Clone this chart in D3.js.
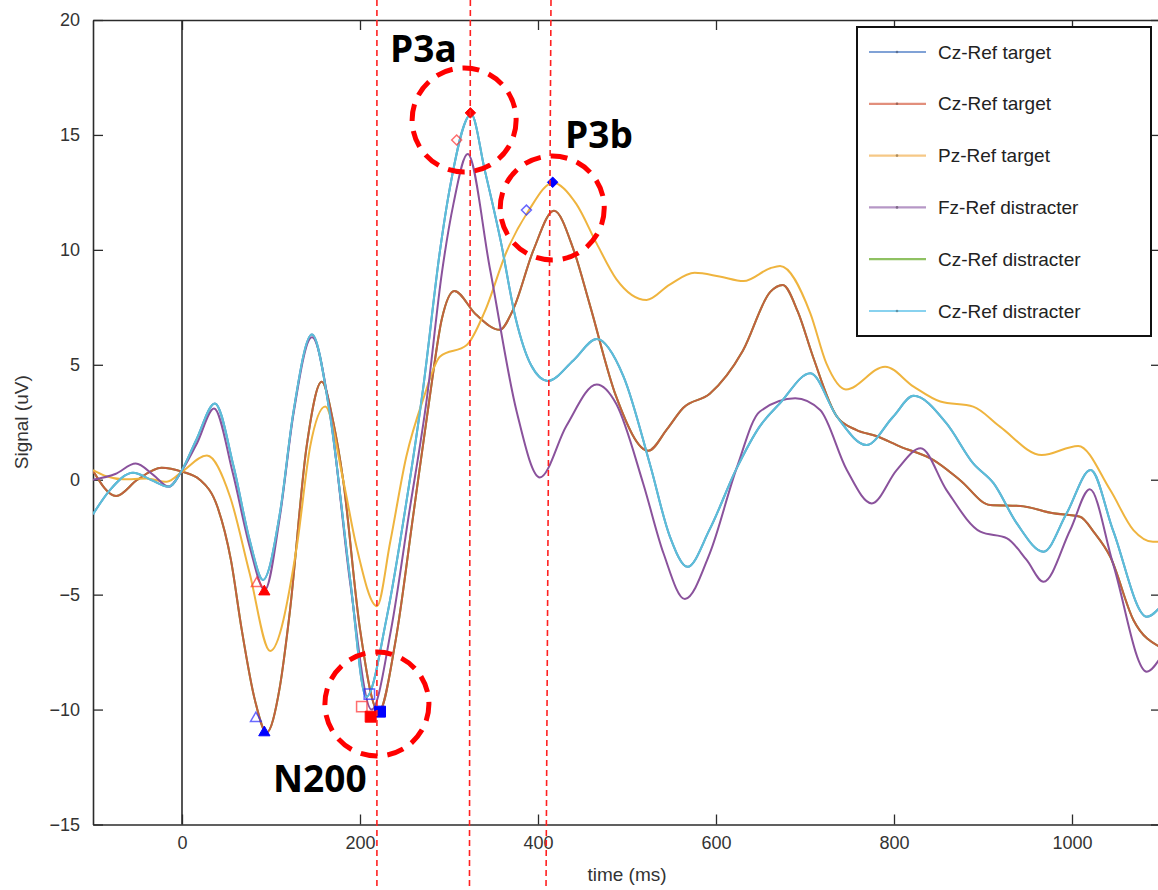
<!DOCTYPE html>
<html>
<head>
<meta charset="utf-8">
<script src="https://cdn.jsdelivr.net/npm/d3@7"></script>
<style>
  body { margin: 0; background: #ffffff; }
  svg { display: block; }
</style>
</head>
<body>
<div id="grafica"></div>
<script>
// ---- datos (tiempo en ms, senal en uV) ----
tiempoCyan = [-100, -81, -55, -35, -15, 0, 16, 37, 58, 76, 91, 110, 125, 146, 166, 189, 207, 230, 252, 271, 290, 301, 325, 340, 358, 375, 392, 411, 440, 466, 496, 526, 548, 568, 593, 623, 649, 672, 706, 736, 769, 799, 822, 859, 889, 912, 938, 968, 994, 1021, 1046, 1084, 1100]
senalCyan  = [-1.5, -0.45, 0.3, 0.0, -0.3, 0.42, 1.73, 3.32, 0.57, -2.62, -4.36, -1.46, 2.9, 6.32, 2.9, -4.36, -9.45, -6.0, -1.0, 4.0, 10.0, 12.7, 15.9, 13.5, 10.4, 7.0, 5.0, 4.3, 5.2, 6.12, 4.5, 0.64, -2.45, -3.79, -2.15, 0.48, 2.31, 3.33, 4.63, 2.74, 1.51, 2.74, 3.65, 2.45, 0.71, -0.16, -1.9, -3.13, -1.46, 0.42, -2.19, -5.96, -5.5]

tiempoPurpura = [-100, -75, -52, -32, -15, 0, 17, 36, 57, 76, 93, 110, 125, 146, 166, 189, 213, 235, 255, 275, 292, 305, 321, 346, 376, 402, 432, 466, 488, 518, 541, 565, 593, 623, 649, 689, 717, 747, 775, 803, 830, 859, 897, 927, 949, 968, 998, 1020, 1046, 1084, 1100]
senalPurpura  = [0.0, 0.25, 0.7, 0.2, -0.3, 0.4, 1.6, 3.1, 0.3, -2.9, -4.8, -1.6, 2.8, 6.2, 3.0, -4.5, -10.0, -6.5, -1.5, 3.5, 9.0, 12.0, 14.17, 9.18, 2.97, 0.1, 2.35, 4.14, 3.29, -0.14, -3.2, -5.19, -3.2, 0.48, 2.96, 3.54, 3.03, 0.42, -1.03, 0.42, 1.37, -0.45, -2.26, -2.55, -3.49, -4.44, -2.19, -0.42, -3.64, -8.35, -7.7]

tiempoNaranja = [-100, -85, -66, -40, -17, 0, 28, 54, 76, 99, 129, 144, 161, 181, 196, 219, 234, 252, 271, 290, 320, 340, 365, 389, 417, 443, 466, 488, 522, 548, 576, 604, 631, 661, 672, 706, 724, 746, 790, 822, 852, 889, 919, 966, 1007, 1043, 1069, 1091, 1100]
senalNaranja  = [0.42, 0.15, 0.02, 0.05, -0.09, 0.35, 1.05, -0.74, -4.07, -7.45, -2.9, 1.44, 3.18, 0.0, -2.9, -5.5, -2.7, 1.0, 3.5, 5.36, 5.86, 7.3, 9.95, 11.68, 12.92, 12.0, 10.27, 8.73, 7.82, 8.49, 9.0, 8.84, 8.64, 9.2, 9.3, 7.24, 5.06, 3.93, 4.92, 4.05, 3.4, 3.18, 2.31, 1.07, 1.47, -0.45, -2.19, -2.7, -2.7]

tiempoCafe = [-100, -74, -50, -23, 0, 20, 40, 55, 67, 82, 95, 110, 121, 140, 157, 170, 181, 200, 221, 240, 260, 278, 292, 306, 330, 357, 372, 395, 418, 440, 458, 488, 524, 545, 563, 593, 630, 661, 675, 692, 709, 736, 758, 780, 807, 844, 874, 908, 942, 979, 1009, 1025, 1043, 1069, 1100]
senalCafe  = [0.39, -0.71, 0.0, 0.52, 0.35, 0.0, -1.2, -3.5, -6.5, -9.6, -11.0, -9.0, -5.8, 1.44, 4.26, 2.5, 0.0, -6.5, -10.1, -7.0, -1.5, 3.5, 7.0, 8.21, 7.2, 6.52, 7.4, 10.0, 11.7, 10.0, 7.64, 3.6, 1.26, 2.2, 3.12, 3.74, 5.6, 8.17, 8.47, 7.3, 5.35, 2.74, 2.16, 1.9, 1.44, 0.86, -0.01, -1.1, -1.14, -1.46, -1.61, -2.3, -3.35, -6.1, -7.3]

// nombres de la leyenda (en el orden de la figura)
leyenda = ['Cz-Ref target', 'Cz-Ref target', 'Pz-Ref target', 'Fz-Ref distracter', 'Cz-Ref distracter', 'Cz-Ref distracter']

// marcadores de picos: [tiempo, senal]
picosRojosAbiertos  = [[84, -4.51], [202, -9.87], [308.6, 14.78]]
picosRojosLlenos    = [[92.5, -4.87], [212, -10.31], [324, 15.96]]
picosAzulesAbiertos = [[83, -10.38], [210.5, -9.33], [387, 11.73]]
picosAzulesLlenos   = [[92.5, -11.0], [222.5, -10.09], [416.5, 12.94]]
formasPico = ['triangle', 'square', 'diamond']

// anotaciones
etiquetas = ['N200', 'P3a', 'P3b']
centrosCirculo = [[219, -9.76], [317, 15.65], [416, 11.82]]
lineasArriba = [219, 324, 414.6]   // ms donde la linea sale por arriba
lineasAbajo  = [219, 323, 409]     // ms donde la linea sale por abajo

xTicks = [0, 200, 400, 600, 800, 1000]
yTicks = [-15, -10, -5, 0, 5, 10, 15, 20]

// ---- tamanio ----
ancho_total = 1158
alto_total  = 890
margin = { left: 93, top: 20 }
ancho = 1068
alto  = 804.5

svg = d3
        .select('#grafica')
        .append('svg')
        .attr('width', ancho_total)
        .attr('height', alto_total)
        .style('font-family', 'Liberation Sans, Arial, sans-serif')

x = d3.scaleLinear().domain([-100, 1100]).range([0, ancho])
y = d3.scaleLinear().domain([-15, 20]).range([alto, 0])

g = svg
      .append('g')
      .attr('transform', 'translate(' + margin.left + ',' + margin.top + ')')

g.append('clipPath')
  .attr('id', 'recorte')
  .append('rect')
    .attr('width', ancho)
    .attr('height', alto)

// ---- ejes (caja estilo matlab, ticks hacia dentro) ----
xAxisCall = d3.axisBottom(x).tickValues(xTicks).tickFormat(d3.format('d'))
              .tickSize(-10).tickSizeOuter(0).tickPadding(12)
yAxisCall = d3.axisLeft(y).tickValues(yTicks).tickSize(-10).tickSizeOuter(0).tickPadding(13)

xGroup = g.append('g').attr('transform', `translate(0, ${alto})`).call(xAxisCall)
yGroup = g.append('g').call(yAxisCall)
topGroup = g.append('g')
              .call(d3.axisTop(x).tickValues(xTicks).tickSize(-10).tickSizeOuter(0).tickFormat(''))
rightGroup = g.append('g')
              .attr('transform', `translate(${ancho}, 0)`)
              .call(d3.axisRight(y).tickValues(yTicks).tickSize(-10).tickSizeOuter(0).tickFormat(''))

g.selectAll('.domain').attr('stroke', '#2b2b2b').attr('stroke-width', 1.6)
g.selectAll('.tick line').attr('stroke', '#2b2b2b').attr('stroke-width', 1.3)
g.selectAll('.tick text').attr('font-size', '18px').attr('fill', '#333').attr('font-family', 'Liberation Sans, Arial, sans-serif')

// linea vertical en t = 0
g.append('line')
  .attr('x1', x(0)).attr('x2', x(0))
  .attr('y1', 0).attr('y2', alto)
  .attr('stroke', '#2b2b2b')
  .attr('stroke-width', 1.6)

// titulos de ejes
svg.append('text')
    .attr('x', margin.left + ancho / 2)
    .attr('y', 881)
    .attr('text-anchor', 'middle')
    .attr('font-size', '19px')
    .attr('fill', '#333')
    .text('time (ms)')

svg.append('text')
    .attr('transform', 'translate(28,' + (margin.top + alto / 2) + ') rotate(-90)')
    .attr('text-anchor', 'middle')
    .attr('font-size', '19px')
    .attr('fill', '#333')
    .text('Signal (uV)')

// ---- curvas ----
linea = d3.line()
          .x((d) => x(d[0]))
          .y((d) => y(d[1]))
          .curve(d3.curveMonotoneX)

function pares(t, v) { return t.map((d, i) => [d, v[i]]) }

// los trazos azul y verde quedan debajo del cian y del rojo (mismos valores)
series = [
  { nombre: 'verde',   datos: pares(tiempoCafe, senalCafe),       color: '#77ac30' },
  { nombre: 'azul',    datos: pares(tiempoCyan, senalCyan),       color: '#4f7fc4' },
  { nombre: 'rojo',    datos: pares(tiempoCafe, senalCafe),       color: '#c2603f' },
  { nombre: 'naranja', datos: pares(tiempoNaranja, senalNaranja), color: '#efb43e' },
  { nombre: 'purpura', datos: pares(tiempoPurpura, senalPurpura), color: '#8a529c' },
  { nombre: 'cyan',    datos: pares(tiempoCyan, senalCyan),       color: '#5cbfd8' }
]

curvas = g.append('g').attr('clip-path', 'url(#recorte)')
curvas.selectAll('path')
  .data(series)
  .enter()
  .append('path')
    .attr('d', (d) => linea(d.datos))
    .attr('fill', 'none')
    .attr('stroke', (d) => d.color)
    .attr('stroke-width', 2)

// ---- marcadores ----
tiposSimbolo = { triangle: d3.symbolTriangle, square: d3.symbolSquare, diamond: d3.symbolDiamond2 }
tamSimbolo   = { triangle: 55, square: 120, diamond: 70 }

function marcadores(puntos, color, lleno) {
  g.append('g')
    .selectAll('path')
    .data(puntos)
    .enter()
    .append('path')
      .attr('transform', (d) => `translate(${x(d[0])},${y(d[1])})`)
      .attr('d', (d, i) => d3.symbol().type(tiposSimbolo[formasPico[i]]).size(tamSimbolo[formasPico[i]] * (lleno ? 1 : 0.9))())
      .attr('fill', lleno ? color : 'none')
      .attr('stroke', color)
      .attr('stroke-width', lleno ? 1 : 1.5)
      .attr('stroke-opacity', lleno ? 1 : 0.7)
}
marcadores(picosAzulesAbiertos, '#2a2aff', false)
marcadores(picosRojosAbiertos, '#ff3030', false)
marcadores(picosAzulesLlenos, '#0000ff', true)
marcadores(picosRojosLlenos, '#ff0000', true)

// ---- anotaciones rojas ----
anot = svg.append('g').attr('transform', 'translate(' + margin.left + ',' + margin.top + ')')

anot.selectAll('line.guia')
  .data(lineasArriba)
  .enter()
  .append('line')
    .attr('class', 'guia')
    .attr('x1', (d) => x(d))
    .attr('x2', (d, i) => x(lineasAbajo[i]))
    .attr('y1', -margin.top)
    .attr('y2', alto_total - margin.top)
    .attr('stroke', '#ff2020')
    .attr('stroke-width', 1.6)
    .attr('stroke-dasharray', '6 4')

anot.selectAll('circle')
  .data(centrosCirculo)
  .enter()
  .append('circle')
    .attr('cx', (d) => x(d[0]))
    .attr('cy', (d) => y(d[1]))
    .attr('r', 52)
    .attr('fill', 'none')
    .attr('stroke', '#ff0000')
    .attr('stroke-width', 5)
    .attr('stroke-dasharray', '17 10')

posEtiquetas = [[273, 792], [390, 62], [565, 148]]
svg.selectAll('text.etiqueta')
  .data(etiquetas)
  .enter()
  .append('text')
    .attr('class', 'etiqueta')
    .attr('x', (d, i) => posEtiquetas[i][0])
    .attr('y', (d, i) => posEtiquetas[i][1])
    .attr('font-family', 'Open Sans, sans-serif')
    .attr('font-weight', 'bold')
    .attr('font-size', '37px')
    .attr('fill', '#000')
    .text((d) => d)

// ---- leyenda ----
coloresLeyenda = ['#80a2d6', '#e28f7c', '#f6c886', '#b697c6', '#8fc162', '#88d2ef']
leg = svg.append('g').attr('transform', 'translate(857,27)')
leg.append('rect')
    .attr('width', 294)
    .attr('height', 309)
    .attr('fill', '#fff')
    .attr('stroke', '#111')
    .attr('stroke-width', 2)

items = leg.selectAll('g.item')
  .data(leyenda)
  .enter()
  .append('g')
    .attr('class', 'item')
    .attr('transform', (d, i) => `translate(0, ${25 + i * 51.8})`)

items.append('line')
    .attr('x1', 12).attr('x2', 69)
    .attr('stroke', (d, i) => coloresLeyenda[i])
    .attr('stroke-width', 2.2)
items.filter((d, i) => i != 4)
  .append('circle')
    .attr('cx', 40).attr('r', 1.3)
    .attr('fill', (d, i) => d3.color(coloresLeyenda[i < 4 ? i : 5]).darker(1))
items.append('text')
    .attr('x', 81)
    .attr('dy', '0.35em')
    .attr('font-size', '19px')
    .attr('fill', '#222')
    .text((d) => d)
</script>
</body>
</html>
